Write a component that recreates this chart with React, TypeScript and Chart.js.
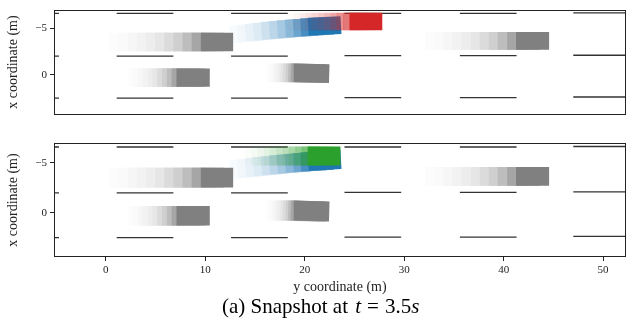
import React, { useEffect, useRef } from 'react';
import { Chart, registerables } from 'chart.js';

Chart.register(...registerables);

// ---------- axes ----------
const X_TICKS = [0, 10, 20, 30, 40, 50];
const Y_TICKS = [-5, 0];
const X_MIN = -5.2;
const X_MAX = 52.3;
const TOP_Y_MIN = -7;
const TOP_Y_MAX = 4.25;
const BOT_Y_MIN = -7;
const BOT_Y_MAX = 4.45;

// ---------- lane markings (dash start along y coordinate, lateral x coordinate) ----------
const DASH_START = [-10.4, 1.1, 12.6, 24.0, 35.6, 47.0];
const DASH_LENGTH = 5.7;
const LANE_TOP = [-6.6, -6.6, -6.6, -6.6, -6.6, -6.65];
const LANE_MID = [-2.0, -2.0, -2.0, -2.05, -2.05, -2.1];
const LANE_BOT = [2.5, 2.5, 2.5, 2.45, 2.45, 2.38];

// ---------- surrounding vehicles: rear positions of ghosts (oldest -> current) ----------
const CAR1_REAR = [0.36, 1.28, 2.2, 3.12, 4.04, 4.96, 5.88, 6.8, 7.72, 8.64, 9.56];
const CAR1_LAT = -3.52;
const CAR1_LEN = 3.25;
const CAR1_WID = 2.0;

const CAR2_REAR = [2.3, 2.78, 3.26, 3.74, 4.22, 4.7, 5.18, 5.66, 6.14, 6.62, 7.11];
const CAR2_LAT = 0.3;
const CAR2_LEN = 3.35;
const CAR2_WID = 1.95;

const CAR3_REAR = [16.2, 16.47, 16.74, 17.0, 17.27, 17.54, 17.8, 18.07, 18.34, 18.6, 18.87];
const CAR3_LAT = -0.17;
const CAR3_LEN = 3.6;
const CAR3_WID = 2.0;
const CAR3_HEAD = 1.5;

const CAR4_REAR = [32.1, 33.0, 33.9, 34.85, 35.75, 36.7, 37.6, 38.5, 39.4, 40.35, 41.25];
const CAR4_LAT = -3.65;
const CAR4_LEN = 3.32;
const CAR4_WID = 1.9;

// ---------- ego vehicle (blue) centre track ----------
const BLUE_CX = [14.15, 14.9, 15.7, 16.5, 17.3, 18.1, 18.9, 19.7, 20.5, 21.25, 22.0];
const BLUE_CY = [-4.45, -4.55, -4.65, -4.74, -4.83, -4.91, -4.98, -5.05, -5.12, -5.18, -5.25];
const BLUE_HEAD = [-5, -5, -4.8, -4.5, -4.2, -4, -3.8, -3.5, -3.3, -3, -3];
const EGO_LEN = 3.3;
const EGO_WID = 1.9;

// ---------- predicted vehicles ----------
const RED_REAR = [18.3, 18.9, 19.5, 20.1, 20.7, 21.4, 22.0, 22.6, 23.2, 23.85, 24.5];
const RED_LAT = -5.72;
const GREEN_REAR = [14.0, 14.6, 15.25, 15.9, 16.5, 17.15, 17.8, 18.4, 19.05, 19.7, 20.3];
const GREEN_LAT = -5.7;

// ---------- shading of ghosts ----------
const GHOST_SHADE = [0.02, 0.04, 0.07, 0.1, 0.14, 0.2, 0.28, 0.38, 0.52, 0.7, 1];
const EGO_SHADE = [0.03, 0.06, 0.1, 0.15, 0.22, 0.3, 0.4, 0.52, 0.66, 0.82, 1];
const PRED_ALPHA = [0.02, 0.03, 0.04, 0.05, 0.07, 0.09, 0.12, 0.16, 0.22, 0.3, 1];

const GRAY = [128, 128, 128];
const BLUE = [31, 119, 180];
const RED = [214, 39, 40];
const GREEN = [44, 160, 44];

const SERIF = "'Liberation Serif', 'DejaVu Serif', serif";
const INK = '#222';

function mix(c: number[], a: number) {
  const r = Math.round(255 - a * (255 - c[0]));
  const g = Math.round(255 - a * (255 - c[1]));
  const b = Math.round(255 - a * (255 - c[2]));
  return `rgb(${r},${g},${b})`;
}

function rectPts(cx: number, cy: number, L: number, W: number, deg: number) {
  const t = (deg * Math.PI) / 180;
  const c = Math.cos(t);
  const s = Math.sin(t);
  const corners = [
    [-L / 2, -W / 2],
    [L / 2, -W / 2],
    [L / 2, W / 2],
    [-L / 2, W / 2],
    [-L / 2, -W / 2],
  ];
  return corners.map(([u, v]) => ({ x: cx + u * c - v * s, y: cy + u * s + v * c }));
}

function shapeDs(points: any[], color: string) {
  return {
    data: points,
    fill: 'shape',
    backgroundColor: color,
    borderColor: 'rgba(0,0,0,0)',
    borderWidth: 0,
    pointRadius: 0,
    tension: 0,
  };
}

function laneDs(lat: number[]) {
  const pts: any[] = [];
  DASH_START.forEach((s, i) => {
    pts.push({ x: s, y: lat[i] });
    pts.push({ x: s + DASH_LENGTH, y: lat[i] });
    pts.push({ x: s + DASH_LENGTH + 0.01, y: null });
  });
  return {
    data: pts,
    fill: false,
    borderColor: '#333',
    borderWidth: 1.3,
    pointRadius: 0,
    spanGaps: false,
    tension: 0,
  };
}

function grayCar(rears: number[], lat: number, L: number, W: number, head = 0) {
  return rears.map((r, i) => shapeDs(rectPts(r + L / 2, lat, L, W, head), mix(GRAY, GHOST_SHADE[i])));
}

function buildDatasets(pred: 'red' | 'green') {
  const list: any[] = [];
  list.push(laneDs(LANE_TOP), laneDs(LANE_MID), laneDs(LANE_BOT));
  BLUE_CX.forEach((cx, i) => {
    list.push(shapeDs(rectPts(cx, BLUE_CY[i], EGO_LEN, EGO_WID, BLUE_HEAD[i]), mix(BLUE, EGO_SHADE[i])));
  });
  const rears = pred === 'red' ? RED_REAR : GREEN_REAR;
  const lat = pred === 'red' ? RED_LAT : GREEN_LAT;
  const col = pred === 'red' ? RED : GREEN;
  rears.forEach((r, i) => {
    list.push(
      shapeDs(
        rectPts(r + EGO_LEN / 2, lat, EGO_LEN, EGO_WID, 0),
        `rgba(${col[0]},${col[1]},${col[2]},${PRED_ALPHA[i]})`
      )
    );
  });
  list.push(...grayCar(CAR1_REAR, CAR1_LAT, CAR1_LEN, CAR1_WID));
  list.push(...grayCar(CAR2_REAR, CAR2_LAT, CAR2_LEN, CAR2_WID));
  list.push(...grayCar(CAR3_REAR, CAR3_LAT, CAR3_LEN, CAR3_WID, CAR3_HEAD));
  list.push(...grayCar(CAR4_REAR, CAR4_LAT, CAR4_LEN, CAR4_WID));
  // Chart.js paints dataset 0 last (on top) -> reverse painter's order
  return list.reverse();
}

const framePlugin = {
  id: 'frame',
  afterDraw(chart: any) {
    const { ctx, chartArea: a } = chart;
    ctx.save();
    ctx.strokeStyle = INK;
    ctx.lineWidth = 1;
    ctx.strokeRect(Math.round(a.left) + 0.5, Math.round(a.top) + 0.5, Math.round(a.right - a.left) - 1, Math.round(a.bottom - a.top) - 1);
    ctx.restore();
  },
};

function yScale(min: number, max: number) {
  return {
    type: 'linear',
    min,
    max,
    reverse: true,
    afterFit: (s: any) => {
      s.width = 54;
    },
    afterBuildTicks: (s: any) => {
      s.ticks = Y_TICKS.map((v) => ({ value: v }));
    },
    ticks: {
      callback: (v: number) => (v < 0 ? '\u2212' + Math.abs(v) : String(v)),
      font: { family: SERIF, size: 11 },
      color: INK,
      padding: 3,
    },
    grid: { drawOnChartArea: false, drawTicks: true, tickLength: 4, color: INK },
    border: { display: false },
    title: {
      display: true,
      text: 'x coordinate (m)',
      font: { family: SERIF, size: 14 },
      color: INK,
      padding: { top: 5, bottom: 0 },
    },
  };
}

function makeChart(canvas: HTMLCanvasElement, pred: 'red' | 'green', bottom: boolean) {
  const xScale: any = bottom
    ? {
        type: 'linear',
        min: X_MIN,
        max: X_MAX,
        afterFit: (s: any) => {
          s.height = 43;
        },
        afterBuildTicks: (s: any) => {
          s.ticks = X_TICKS.map((v) => ({ value: v }));
        },
        ticks: { font: { family: SERIF, size: 11 }, color: INK, padding: 3, maxRotation: 0 },
        grid: { drawOnChartArea: false, drawTicks: true, tickLength: 4, color: INK },
        border: { display: false },
        title: {
          display: true,
          text: 'y coordinate (m)',
          font: { family: SERIF, size: 14 },
          color: INK,
          padding: { top: 0, bottom: 4 },
        },
      }
    : { type: 'linear', min: X_MIN, max: X_MAX, display: false };
  return new Chart(canvas, {
    type: 'line',
    data: { datasets: buildDatasets(pred) },
    options: {
      animation: false,
      responsive: false,
      devicePixelRatio: 1,
      events: [],
      plugins: { legend: { display: false }, tooltip: { enabled: false } },
      elements: { point: { radius: 0 }, line: { tension: 0 } },
      layout: { padding: bottom ? { left: 0, right: 11, top: 13, bottom: 0 } : { left: 0, right: 11, top: 6, bottom: 6 } },
      scales: {
        x: xScale,
        y: bottom ? yScale(BOT_Y_MIN, BOT_Y_MAX) : yScale(TOP_Y_MIN, TOP_Y_MAX),
      },
    } as any,
    plugins: [framePlugin],
  });
}

export default function App() {
  const topRef = useRef<HTMLCanvasElement>(null);
  const botRef = useRef<HTMLCanvasElement>(null);
  useEffect(() => {
    const a = makeChart(topRef.current!, 'red', false);
    const b = makeChart(botRef.current!, 'green', true);
    return () => {
      a.destroy();
      b.destroy();
    };
  }, []);
  return (
    <div style={{ position: 'absolute', left: 0, top: 0, width: 637, height: 324, background: '#fff', overflow: 'hidden' }}>
      <canvas ref={topRef} width={637} height={124} style={{ position: 'absolute', left: 0, top: 0, width: 637, height: 124 }} />
      <canvas ref={botRef} width={637} height={170} style={{ position: 'absolute', left: 0, top: 130, width: 637, height: 170 }} />
      <div
        style={{
          position: 'absolute',
          left: 222,
          top: 293,
          fontFamily: "'Liberation Serif', serif",
          fontSize: 21,
          lineHeight: '26px',
          whiteSpace: 'nowrap',
          color: '#000',
        }}
      >
        (a) Snapshot at <i style={{ marginLeft: 2 }}>t</i>
        <span style={{ margin: '0 6px' }}>=</span>
        3.5<i>s</i>
      </div>
    </div>
  );
}
